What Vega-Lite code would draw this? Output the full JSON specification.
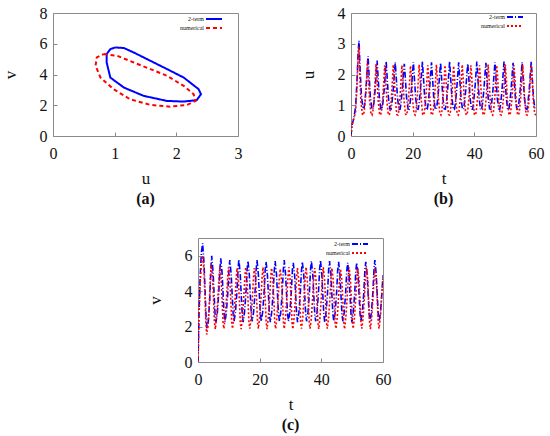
{
  "$schema": "https://vega.github.io/schema/vega-lite/v6.json",
  "padding": {"left": 0, "top": 4, "right": 4, "bottom": 4},
  "background": "white",
  "datasets": {
    "cyc": [
      {"m": "2-term", "i": 1, "u": 1.01, "v": 5.76},
      {"m": "2-term", "i": 2, "u": 1.15, "v": 5.72},
      {"m": "2-term", "i": 3, "u": 1.31, "v": 5.43},
      {"m": "2-term", "i": 4, "u": 1.58, "v": 4.89},
      {"m": "2-term", "i": 5, "u": 1.85, "v": 4.35},
      {"m": "2-term", "i": 6, "u": 2.12, "v": 3.8},
      {"m": "2-term", "i": 7, "u": 2.36, "v": 3.05},
      {"m": "2-term", "i": 8, "u": 2.4, "v": 2.72},
      {"m": "2-term", "i": 9, "u": 2.33, "v": 2.33},
      {"m": "2-term", "i": 10, "u": 2.12, "v": 2.24},
      {"m": "2-term", "i": 11, "u": 1.85, "v": 2.28},
      {"m": "2-term", "i": 12, "u": 1.47, "v": 2.61},
      {"m": "2-term", "i": 13, "u": 1.15, "v": 3.15},
      {"m": "2-term", "i": 14, "u": 0.93, "v": 3.8},
      {"m": "2-term", "i": 15, "u": 0.87, "v": 4.78},
      {"m": "2-term", "i": 16, "u": 0.87, "v": 5.33},
      {"m": "2-term", "i": 17, "u": 0.93, "v": 5.65},
      {"m": "2-term", "i": 18, "u": 1.01, "v": 5.76},
      {"m": "numerical", "i": 1, "u": 0.82, "v": 5.33},
      {"m": "numerical", "i": 2, "u": 1.04, "v": 5.22},
      {"m": "numerical", "i": 3, "u": 1.31, "v": 4.78},
      {"m": "numerical", "i": 4, "u": 1.58, "v": 4.35},
      {"m": "numerical", "i": 5, "u": 1.85, "v": 3.91},
      {"m": "numerical", "i": 6, "u": 2.12, "v": 3.26},
      {"m": "numerical", "i": 7, "u": 2.28, "v": 2.72},
      {"m": "numerical", "i": 8, "u": 2.31, "v": 2.28},
      {"m": "numerical", "i": 9, "u": 2.17, "v": 2.02},
      {"m": "numerical", "i": 10, "u": 1.9, "v": 1.91},
      {"m": "numerical", "i": 11, "u": 1.58, "v": 2.02},
      {"m": "numerical", "i": 12, "u": 1.25, "v": 2.39},
      {"m": "numerical", "i": 13, "u": 0.98, "v": 3.05},
      {"m": "numerical", "i": 14, "u": 0.77, "v": 3.8},
      {"m": "numerical", "i": 15, "u": 0.69, "v": 4.57},
      {"m": "numerical", "i": 16, "u": 0.71, "v": 5.11},
      {"m": "numerical", "i": 17, "u": 0.82, "v": 5.33}
    ],
    "ts": [
      {"m": "2-term", "t": 0, "u": 0, "v": 0},
      {"m": "2-term", "t": 0.3, "u": 0.35, "v": 2.6},
      {"m": "2-term", "t": 0.7, "u": 0.5, "v": 4.8},
      {"m": "2-term", "t": 1.1, "u": 0.7, "v": 6.2},
      {"m": "2-term", "t": 1.5, "u": 0.95, "v": 6.7},
      {"m": "2-term", "t": 1.95, "u": 1.8, "v": 5.6},
      {"m": "2-term", "t": 2.35, "u": 2.8, "v": 3.8},
      {"m": "2-term", "t": 2.6, "u": 3.1, "v": 2.6},
      {"m": "2-term", "t": 2.9, "u": 2.3, "v": 1.9},
      {"m": "2-term", "t": 3.35, "u": 1.35, "v": 2.3},
      {"m": "2-term", "t": 3.8, "u": 0.95, "v": 3.5},
      {"m": "2-term", "t": 4.15, "u": 0.88, "v": 5.2},
      {"m": "2-term", "t": 4.44, "u": 1.05, "v": 6.0},
      {"m": "2-term", "t": 4.88, "u": 1.55, "v": 5.1},
      {"m": "2-term", "t": 5.26, "u": 2.15, "v": 3.7},
      {"m": "2-term", "t": 5.53, "u": 2.6, "v": 2.7},
      {"m": "2-term", "t": 5.82, "u": 2.05, "v": 2.25},
      {"m": "2-term", "t": 6.26, "u": 1.3, "v": 2.75},
      {"m": "2-term", "t": 6.73, "u": 0.9, "v": 3.9},
      {"m": "2-term", "t": 7.09, "u": 0.87, "v": 5.2},
      {"m": "2-term", "t": 7.38, "u": 1.05, "v": 5.85},
      {"m": "2-term", "t": 7.82, "u": 1.5, "v": 5.0},
      {"m": "2-term", "t": 8.2, "u": 2.1, "v": 3.6},
      {"m": "2-term", "t": 8.47, "u": 2.45, "v": 2.7},
      {"m": "2-term", "t": 8.76, "u": 1.95, "v": 2.28},
      {"m": "2-term", "t": 9.2, "u": 1.25, "v": 2.8},
      {"m": "2-term", "t": 9.67, "u": 0.88, "v": 3.9},
      {"m": "2-term", "t": 10.03, "u": 0.87, "v": 5.2},
      {"m": "2-term", "t": 10.32, "u": 1.05, "v": 5.75},
      {"m": "2-term", "t": 10.76, "u": 1.5, "v": 4.95},
      {"m": "2-term", "t": 11.14, "u": 2.05, "v": 3.6},
      {"m": "2-term", "t": 11.41, "u": 2.42, "v": 2.7},
      {"m": "2-term", "t": 11.7, "u": 1.95, "v": 2.3},
      {"m": "2-term", "t": 12.14, "u": 1.25, "v": 2.8},
      {"m": "2-term", "t": 12.61, "u": 0.88, "v": 3.9},
      {"m": "2-term", "t": 12.97, "u": 0.87, "v": 5.2},
      {"m": "2-term", "t": 13.26, "u": 1.05, "v": 5.8},
      {"m": "2-term", "t": 13.7, "u": 1.5, "v": 4.95},
      {"m": "2-term", "t": 14.08, "u": 2.05, "v": 3.6},
      {"m": "2-term", "t": 14.35, "u": 2.4, "v": 2.7},
      {"m": "2-term", "t": 14.64, "u": 1.95, "v": 2.25},
      {"m": "2-term", "t": 15.08, "u": 1.25, "v": 2.8},
      {"m": "2-term", "t": 15.55, "u": 0.86, "v": 3.9},
      {"m": "2-term", "t": 15.91, "u": 0.87, "v": 5.2},
      {"m": "2-term", "t": 16.2, "u": 1.05, "v": 5.7},
      {"m": "2-term", "t": 16.64, "u": 1.5, "v": 4.95},
      {"m": "2-term", "t": 17.02, "u": 2.05, "v": 3.6},
      {"m": "2-term", "t": 17.29, "u": 2.35, "v": 2.7},
      {"m": "2-term", "t": 17.58, "u": 1.95, "v": 2.3},
      {"m": "2-term", "t": 18.02, "u": 1.25, "v": 2.8},
      {"m": "2-term", "t": 18.49, "u": 0.88, "v": 3.9},
      {"m": "2-term", "t": 18.85, "u": 0.87, "v": 5.2},
      {"m": "2-term", "t": 19.14, "u": 1.05, "v": 5.75},
      {"m": "2-term", "t": 19.58, "u": 1.5, "v": 4.95},
      {"m": "2-term", "t": 19.96, "u": 2.05, "v": 3.6},
      {"m": "2-term", "t": 20.23, "u": 2.4, "v": 2.7},
      {"m": "2-term", "t": 20.52, "u": 1.95, "v": 2.3},
      {"m": "2-term", "t": 20.96, "u": 1.25, "v": 2.8},
      {"m": "2-term", "t": 21.43, "u": 0.88, "v": 3.9},
      {"m": "2-term", "t": 21.79, "u": 0.87, "v": 5.2},
      {"m": "2-term", "t": 22.08, "u": 1.05, "v": 5.65},
      {"m": "2-term", "t": 22.52, "u": 1.5, "v": 4.9},
      {"m": "2-term", "t": 22.9, "u": 2.05, "v": 3.6},
      {"m": "2-term", "t": 23.17, "u": 2.42, "v": 2.7},
      {"m": "2-term", "t": 23.46, "u": 1.95, "v": 2.25},
      {"m": "2-term", "t": 23.9, "u": 1.25, "v": 2.8},
      {"m": "2-term", "t": 24.37, "u": 0.86, "v": 3.9},
      {"m": "2-term", "t": 24.73, "u": 0.87, "v": 5.15},
      {"m": "2-term", "t": 25.02, "u": 1.05, "v": 5.7},
      {"m": "2-term", "t": 25.46, "u": 1.5, "v": 4.95},
      {"m": "2-term", "t": 25.84, "u": 2.05, "v": 3.6},
      {"m": "2-term", "t": 26.11, "u": 2.4, "v": 2.7},
      {"m": "2-term", "t": 26.4, "u": 1.95, "v": 2.3},
      {"m": "2-term", "t": 26.84, "u": 1.25, "v": 2.8},
      {"m": "2-term", "t": 27.31, "u": 0.88, "v": 3.9},
      {"m": "2-term", "t": 27.67, "u": 0.87, "v": 5.2},
      {"m": "2-term", "t": 27.96, "u": 1.05, "v": 5.75},
      {"m": "2-term", "t": 28.4, "u": 1.5, "v": 4.95},
      {"m": "2-term", "t": 28.78, "u": 2.05, "v": 3.6},
      {"m": "2-term", "t": 29.05, "u": 2.38, "v": 2.7},
      {"m": "2-term", "t": 29.34, "u": 1.95, "v": 2.3},
      {"m": "2-term", "t": 29.78, "u": 1.25, "v": 2.8},
      {"m": "2-term", "t": 30.25, "u": 0.88, "v": 3.9},
      {"m": "2-term", "t": 30.61, "u": 0.87, "v": 5.2},
      {"m": "2-term", "t": 30.9, "u": 1.05, "v": 5.6},
      {"m": "2-term", "t": 31.34, "u": 1.5, "v": 4.9},
      {"m": "2-term", "t": 31.72, "u": 2.05, "v": 3.6},
      {"m": "2-term", "t": 31.99, "u": 2.42, "v": 2.7},
      {"m": "2-term", "t": 32.28, "u": 1.95, "v": 2.25},
      {"m": "2-term", "t": 32.72, "u": 1.25, "v": 2.8},
      {"m": "2-term", "t": 33.19, "u": 0.86, "v": 3.9},
      {"m": "2-term", "t": 33.55, "u": 0.87, "v": 5.15},
      {"m": "2-term", "t": 33.84, "u": 1.05, "v": 5.65},
      {"m": "2-term", "t": 34.28, "u": 1.5, "v": 4.95},
      {"m": "2-term", "t": 34.66, "u": 2.05, "v": 3.6},
      {"m": "2-term", "t": 34.93, "u": 2.4, "v": 2.7},
      {"m": "2-term", "t": 35.22, "u": 1.95, "v": 2.3},
      {"m": "2-term", "t": 35.66, "u": 1.25, "v": 2.8},
      {"m": "2-term", "t": 36.13, "u": 0.88, "v": 3.9},
      {"m": "2-term", "t": 36.49, "u": 0.87, "v": 5.2},
      {"m": "2-term", "t": 36.78, "u": 1.05, "v": 5.7},
      {"m": "2-term", "t": 37.22, "u": 1.5, "v": 4.95},
      {"m": "2-term", "t": 37.6, "u": 2.05, "v": 3.6},
      {"m": "2-term", "t": 37.87, "u": 2.35, "v": 2.7},
      {"m": "2-term", "t": 38.16, "u": 1.95, "v": 2.3},
      {"m": "2-term", "t": 38.6, "u": 1.25, "v": 2.8},
      {"m": "2-term", "t": 39.07, "u": 0.88, "v": 3.9},
      {"m": "2-term", "t": 39.43, "u": 0.87, "v": 5.2},
      {"m": "2-term", "t": 39.72, "u": 1.05, "v": 5.75},
      {"m": "2-term", "t": 40.16, "u": 1.5, "v": 4.95},
      {"m": "2-term", "t": 40.54, "u": 2.05, "v": 3.6},
      {"m": "2-term", "t": 40.81, "u": 2.42, "v": 2.7},
      {"m": "2-term", "t": 41.1, "u": 1.95, "v": 2.25},
      {"m": "2-term", "t": 41.54, "u": 1.25, "v": 2.8},
      {"m": "2-term", "t": 42.01, "u": 0.86, "v": 3.9},
      {"m": "2-term", "t": 42.37, "u": 0.87, "v": 5.2},
      {"m": "2-term", "t": 42.66, "u": 1.05, "v": 5.7},
      {"m": "2-term", "t": 43.1, "u": 1.5, "v": 4.95},
      {"m": "2-term", "t": 43.48, "u": 2.05, "v": 3.6},
      {"m": "2-term", "t": 43.75, "u": 2.38, "v": 2.7},
      {"m": "2-term", "t": 44.04, "u": 1.95, "v": 2.3},
      {"m": "2-term", "t": 44.48, "u": 1.25, "v": 2.8},
      {"m": "2-term", "t": 44.95, "u": 0.88, "v": 3.9},
      {"m": "2-term", "t": 45.31, "u": 0.87, "v": 5.2},
      {"m": "2-term", "t": 45.6, "u": 1.05, "v": 5.65},
      {"m": "2-term", "t": 46.04, "u": 1.5, "v": 4.9},
      {"m": "2-term", "t": 46.42, "u": 2.05, "v": 3.6},
      {"m": "2-term", "t": 46.69, "u": 2.4, "v": 2.7},
      {"m": "2-term", "t": 46.98, "u": 1.95, "v": 2.3},
      {"m": "2-term", "t": 47.42, "u": 1.25, "v": 2.8},
      {"m": "2-term", "t": 47.89, "u": 0.88, "v": 3.9},
      {"m": "2-term", "t": 48.25, "u": 0.87, "v": 5.15},
      {"m": "2-term", "t": 48.54, "u": 1.05, "v": 5.6},
      {"m": "2-term", "t": 48.98, "u": 1.5, "v": 4.9},
      {"m": "2-term", "t": 49.36, "u": 2.05, "v": 3.6},
      {"m": "2-term", "t": 49.63, "u": 2.42, "v": 2.7},
      {"m": "2-term", "t": 49.92, "u": 1.95, "v": 2.25},
      {"m": "2-term", "t": 50.36, "u": 1.25, "v": 2.8},
      {"m": "2-term", "t": 50.83, "u": 0.86, "v": 3.9},
      {"m": "2-term", "t": 51.19, "u": 0.87, "v": 5.15},
      {"m": "2-term", "t": 51.48, "u": 1.05, "v": 5.6},
      {"m": "2-term", "t": 51.92, "u": 1.5, "v": 4.9},
      {"m": "2-term", "t": 52.3, "u": 2.05, "v": 3.6},
      {"m": "2-term", "t": 52.57, "u": 2.38, "v": 2.7},
      {"m": "2-term", "t": 52.86, "u": 1.95, "v": 2.3},
      {"m": "2-term", "t": 53.3, "u": 1.25, "v": 2.8},
      {"m": "2-term", "t": 53.77, "u": 0.88, "v": 3.9},
      {"m": "2-term", "t": 54.13, "u": 0.87, "v": 5.2},
      {"m": "2-term", "t": 54.42, "u": 1.05, "v": 5.65},
      {"m": "2-term", "t": 54.86, "u": 1.5, "v": 4.95},
      {"m": "2-term", "t": 55.24, "u": 2.05, "v": 3.6},
      {"m": "2-term", "t": 55.51, "u": 2.4, "v": 2.7},
      {"m": "2-term", "t": 55.8, "u": 1.95, "v": 2.3},
      {"m": "2-term", "t": 56.24, "u": 1.25, "v": 2.8},
      {"m": "2-term", "t": 56.71, "u": 0.88, "v": 3.9},
      {"m": "2-term", "t": 57.07, "u": 0.87, "v": 5.2},
      {"m": "2-term", "t": 57.36, "u": 1.05, "v": 5.75},
      {"m": "2-term", "t": 57.8, "u": 1.5, "v": 4.95},
      {"m": "2-term", "t": 58.18, "u": 2.05, "v": 3.6},
      {"m": "2-term", "t": 58.45, "u": 2.42, "v": 2.7},
      {"m": "2-term", "t": 58.74, "u": 1.95, "v": 2.3},
      {"m": "2-term", "t": 59.18, "u": 1.25, "v": 2.8},
      {"m": "2-term", "t": 59.65, "u": 0.88, "v": 3.9},
      {"m": "2-term", "t": 60, "u": 0.87, "v": 4.9},
      {"m": "numerical", "t": 0, "u": 0, "v": 0},
      {"m": "numerical", "t": 0.3, "u": 0.33, "v": 2.4},
      {"m": "numerical", "t": 0.7, "u": 0.48, "v": 4.4},
      {"m": "numerical", "t": 1.1, "u": 0.62, "v": 5.6},
      {"m": "numerical", "t": 1.5, "u": 0.8, "v": 6.0},
      {"m": "numerical", "t": 1.92, "u": 1.6, "v": 5.2},
      {"m": "numerical", "t": 2.28, "u": 2.5, "v": 3.6},
      {"m": "numerical", "t": 2.53, "u": 2.9, "v": 2.3},
      {"m": "numerical", "t": 2.81, "u": 2.1, "v": 1.55},
      {"m": "numerical", "t": 3.23, "u": 1.1, "v": 2.0},
      {"m": "numerical", "t": 3.68, "u": 0.72, "v": 3.3},
      {"m": "numerical", "t": 4.02, "u": 0.68, "v": 4.7},
      {"m": "numerical", "t": 4.3, "u": 0.8, "v": 5.55},
      {"m": "numerical", "t": 4.72, "u": 1.25, "v": 4.75},
      {"m": "numerical", "t": 5.08, "u": 1.85, "v": 3.4},
      {"m": "numerical", "t": 5.33, "u": 2.45, "v": 2.25},
      {"m": "numerical", "t": 5.61, "u": 1.95, "v": 1.85},
      {"m": "numerical", "t": 6.03, "u": 1.15, "v": 2.5},
      {"m": "numerical", "t": 6.48, "u": 0.72, "v": 3.7},
      {"m": "numerical", "t": 6.82, "u": 0.68, "v": 4.8},
      {"m": "numerical", "t": 7.09, "u": 0.8, "v": 5.4},
      {"m": "numerical", "t": 7.51, "u": 1.25, "v": 4.65},
      {"m": "numerical", "t": 7.87, "u": 1.85, "v": 3.35},
      {"m": "numerical", "t": 8.12, "u": 2.35, "v": 2.25},
      {"m": "numerical", "t": 8.4, "u": 1.95, "v": 1.88},
      {"m": "numerical", "t": 8.82, "u": 1.15, "v": 2.5},
      {"m": "numerical", "t": 9.27, "u": 0.72, "v": 3.7},
      {"m": "numerical", "t": 9.61, "u": 0.68, "v": 4.8},
      {"m": "numerical", "t": 9.89, "u": 0.8, "v": 5.35},
      {"m": "numerical", "t": 10.31, "u": 1.25, "v": 4.65},
      {"m": "numerical", "t": 10.67, "u": 1.85, "v": 3.35},
      {"m": "numerical", "t": 10.92, "u": 2.3, "v": 2.25},
      {"m": "numerical", "t": 11.2, "u": 1.95, "v": 1.88},
      {"m": "numerical", "t": 11.62, "u": 1.15, "v": 2.5},
      {"m": "numerical", "t": 12.07, "u": 0.72, "v": 3.7},
      {"m": "numerical", "t": 12.41, "u": 0.68, "v": 4.8},
      {"m": "numerical", "t": 12.68, "u": 0.8, "v": 5.3},
      {"m": "numerical", "t": 13.1, "u": 1.25, "v": 4.65},
      {"m": "numerical", "t": 13.46, "u": 1.85, "v": 3.35},
      {"m": "numerical", "t": 13.71, "u": 2.32, "v": 2.25},
      {"m": "numerical", "t": 13.99, "u": 1.95, "v": 1.86},
      {"m": "numerical", "t": 14.41, "u": 1.15, "v": 2.5},
      {"m": "numerical", "t": 14.86, "u": 0.7, "v": 3.7},
      {"m": "numerical", "t": 15.2, "u": 0.68, "v": 4.8},
      {"m": "numerical", "t": 15.48, "u": 0.8, "v": 5.35},
      {"m": "numerical", "t": 15.9, "u": 1.25, "v": 4.65},
      {"m": "numerical", "t": 16.26, "u": 1.85, "v": 3.35},
      {"m": "numerical", "t": 16.51, "u": 2.3, "v": 2.25},
      {"m": "numerical", "t": 16.79, "u": 1.95, "v": 1.88},
      {"m": "numerical", "t": 17.21, "u": 1.15, "v": 2.5},
      {"m": "numerical", "t": 17.66, "u": 0.72, "v": 3.7},
      {"m": "numerical", "t": 18.0, "u": 0.68, "v": 4.8},
      {"m": "numerical", "t": 18.27, "u": 0.8, "v": 5.3},
      {"m": "numerical", "t": 18.69, "u": 1.25, "v": 4.65},
      {"m": "numerical", "t": 19.05, "u": 1.85, "v": 3.35},
      {"m": "numerical", "t": 19.3, "u": 2.28, "v": 2.25},
      {"m": "numerical", "t": 19.58, "u": 1.95, "v": 1.88},
      {"m": "numerical", "t": 20.0, "u": 1.15, "v": 2.5},
      {"m": "numerical", "t": 20.45, "u": 0.72, "v": 3.7},
      {"m": "numerical", "t": 20.79, "u": 0.68, "v": 4.8},
      {"m": "numerical", "t": 21.07, "u": 0.8, "v": 5.35},
      {"m": "numerical", "t": 21.49, "u": 1.25, "v": 4.65},
      {"m": "numerical", "t": 21.85, "u": 1.85, "v": 3.35},
      {"m": "numerical", "t": 22.1, "u": 2.32, "v": 2.25},
      {"m": "numerical", "t": 22.38, "u": 1.95, "v": 1.86},
      {"m": "numerical", "t": 22.8, "u": 1.15, "v": 2.5},
      {"m": "numerical", "t": 23.25, "u": 0.7, "v": 3.7},
      {"m": "numerical", "t": 23.59, "u": 0.68, "v": 4.8},
      {"m": "numerical", "t": 23.86, "u": 0.8, "v": 5.3},
      {"m": "numerical", "t": 24.28, "u": 1.25, "v": 4.65},
      {"m": "numerical", "t": 24.64, "u": 1.85, "v": 3.35},
      {"m": "numerical", "t": 24.89, "u": 2.3, "v": 2.25},
      {"m": "numerical", "t": 25.17, "u": 1.95, "v": 1.88},
      {"m": "numerical", "t": 25.59, "u": 1.15, "v": 2.5},
      {"m": "numerical", "t": 26.04, "u": 0.72, "v": 3.7},
      {"m": "numerical", "t": 26.38, "u": 0.68, "v": 4.8},
      {"m": "numerical", "t": 26.66, "u": 0.8, "v": 5.25},
      {"m": "numerical", "t": 27.08, "u": 1.25, "v": 4.65},
      {"m": "numerical", "t": 27.44, "u": 1.85, "v": 3.35},
      {"m": "numerical", "t": 27.69, "u": 2.32, "v": 2.25},
      {"m": "numerical", "t": 27.97, "u": 1.95, "v": 1.88},
      {"m": "numerical", "t": 28.39, "u": 1.15, "v": 2.5},
      {"m": "numerical", "t": 28.84, "u": 0.72, "v": 3.7},
      {"m": "numerical", "t": 29.18, "u": 0.68, "v": 4.8},
      {"m": "numerical", "t": 29.45, "u": 0.8, "v": 5.35},
      {"m": "numerical", "t": 29.87, "u": 1.25, "v": 4.65},
      {"m": "numerical", "t": 30.23, "u": 1.85, "v": 3.35},
      {"m": "numerical", "t": 30.48, "u": 2.3, "v": 2.25},
      {"m": "numerical", "t": 30.76, "u": 1.95, "v": 1.86},
      {"m": "numerical", "t": 31.18, "u": 1.15, "v": 2.5},
      {"m": "numerical", "t": 31.63, "u": 0.7, "v": 3.7},
      {"m": "numerical", "t": 31.97, "u": 0.68, "v": 4.8},
      {"m": "numerical", "t": 32.25, "u": 0.8, "v": 5.3},
      {"m": "numerical", "t": 32.67, "u": 1.25, "v": 4.65},
      {"m": "numerical", "t": 33.03, "u": 1.85, "v": 3.35},
      {"m": "numerical", "t": 33.28, "u": 2.28, "v": 2.25},
      {"m": "numerical", "t": 33.56, "u": 1.95, "v": 1.88},
      {"m": "numerical", "t": 33.98, "u": 1.15, "v": 2.5},
      {"m": "numerical", "t": 34.43, "u": 0.72, "v": 3.7},
      {"m": "numerical", "t": 34.77, "u": 0.68, "v": 4.8},
      {"m": "numerical", "t": 35.04, "u": 0.8, "v": 5.35},
      {"m": "numerical", "t": 35.46, "u": 1.25, "v": 4.65},
      {"m": "numerical", "t": 35.82, "u": 1.85, "v": 3.35},
      {"m": "numerical", "t": 36.07, "u": 2.32, "v": 2.25},
      {"m": "numerical", "t": 36.35, "u": 1.95, "v": 1.88},
      {"m": "numerical", "t": 36.77, "u": 1.15, "v": 2.5},
      {"m": "numerical", "t": 37.22, "u": 0.72, "v": 3.7},
      {"m": "numerical", "t": 37.56, "u": 0.68, "v": 4.8},
      {"m": "numerical", "t": 37.84, "u": 0.8, "v": 5.3},
      {"m": "numerical", "t": 38.26, "u": 1.25, "v": 4.65},
      {"m": "numerical", "t": 38.62, "u": 1.85, "v": 3.35},
      {"m": "numerical", "t": 38.87, "u": 2.3, "v": 2.25},
      {"m": "numerical", "t": 39.15, "u": 1.95, "v": 1.86},
      {"m": "numerical", "t": 39.57, "u": 1.15, "v": 2.5},
      {"m": "numerical", "t": 40.02, "u": 0.7, "v": 3.7},
      {"m": "numerical", "t": 40.36, "u": 0.68, "v": 4.8},
      {"m": "numerical", "t": 40.63, "u": 0.8, "v": 5.35},
      {"m": "numerical", "t": 41.05, "u": 1.25, "v": 4.65},
      {"m": "numerical", "t": 41.41, "u": 1.85, "v": 3.35},
      {"m": "numerical", "t": 41.66, "u": 2.3, "v": 2.25},
      {"m": "numerical", "t": 41.94, "u": 1.95, "v": 1.88},
      {"m": "numerical", "t": 42.36, "u": 1.15, "v": 2.5},
      {"m": "numerical", "t": 42.81, "u": 0.72, "v": 3.7},
      {"m": "numerical", "t": 43.15, "u": 0.68, "v": 4.8},
      {"m": "numerical", "t": 43.43, "u": 0.8, "v": 5.3},
      {"m": "numerical", "t": 43.85, "u": 1.25, "v": 4.65},
      {"m": "numerical", "t": 44.21, "u": 1.85, "v": 3.35},
      {"m": "numerical", "t": 44.46, "u": 2.32, "v": 2.25},
      {"m": "numerical", "t": 44.74, "u": 1.95, "v": 1.88},
      {"m": "numerical", "t": 45.16, "u": 1.15, "v": 2.5},
      {"m": "numerical", "t": 45.61, "u": 0.72, "v": 3.7},
      {"m": "numerical", "t": 45.95, "u": 0.68, "v": 4.8},
      {"m": "numerical", "t": 46.22, "u": 0.8, "v": 5.25},
      {"m": "numerical", "t": 46.64, "u": 1.25, "v": 4.65},
      {"m": "numerical", "t": 47.0, "u": 1.85, "v": 3.35},
      {"m": "numerical", "t": 47.25, "u": 2.3, "v": 2.25},
      {"m": "numerical", "t": 47.53, "u": 1.95, "v": 1.86},
      {"m": "numerical", "t": 47.95, "u": 1.15, "v": 2.5},
      {"m": "numerical", "t": 48.4, "u": 0.7, "v": 3.7},
      {"m": "numerical", "t": 48.74, "u": 0.68, "v": 4.8},
      {"m": "numerical", "t": 49.02, "u": 0.8, "v": 5.35},
      {"m": "numerical", "t": 49.44, "u": 1.25, "v": 4.65},
      {"m": "numerical", "t": 49.8, "u": 1.85, "v": 3.35},
      {"m": "numerical", "t": 50.05, "u": 2.32, "v": 2.25},
      {"m": "numerical", "t": 50.33, "u": 1.95, "v": 1.88},
      {"m": "numerical", "t": 50.75, "u": 1.15, "v": 2.5},
      {"m": "numerical", "t": 51.2, "u": 0.72, "v": 3.7},
      {"m": "numerical", "t": 51.54, "u": 0.68, "v": 4.8},
      {"m": "numerical", "t": 51.81, "u": 0.8, "v": 5.3},
      {"m": "numerical", "t": 52.23, "u": 1.25, "v": 4.65},
      {"m": "numerical", "t": 52.59, "u": 1.85, "v": 3.35},
      {"m": "numerical", "t": 52.84, "u": 2.3, "v": 2.25},
      {"m": "numerical", "t": 53.12, "u": 1.95, "v": 1.88},
      {"m": "numerical", "t": 53.54, "u": 1.15, "v": 2.5},
      {"m": "numerical", "t": 53.99, "u": 0.72, "v": 3.7},
      {"m": "numerical", "t": 54.33, "u": 0.68, "v": 4.8},
      {"m": "numerical", "t": 54.61, "u": 0.8, "v": 5.35},
      {"m": "numerical", "t": 55.03, "u": 1.25, "v": 4.65},
      {"m": "numerical", "t": 55.39, "u": 1.85, "v": 3.35},
      {"m": "numerical", "t": 55.64, "u": 2.32, "v": 2.25},
      {"m": "numerical", "t": 55.92, "u": 1.95, "v": 1.86},
      {"m": "numerical", "t": 56.34, "u": 1.15, "v": 2.5},
      {"m": "numerical", "t": 56.79, "u": 0.7, "v": 3.7},
      {"m": "numerical", "t": 57.13, "u": 0.68, "v": 4.8},
      {"m": "numerical", "t": 57.4, "u": 0.8, "v": 5.3},
      {"m": "numerical", "t": 57.82, "u": 1.25, "v": 4.65},
      {"m": "numerical", "t": 58.18, "u": 1.85, "v": 3.35},
      {"m": "numerical", "t": 58.43, "u": 2.3, "v": 2.25},
      {"m": "numerical", "t": 58.71, "u": 1.95, "v": 1.88},
      {"m": "numerical", "t": 59.13, "u": 1.15, "v": 2.5},
      {"m": "numerical", "t": 59.58, "u": 0.72, "v": 3.7},
      {"m": "numerical", "t": 60, "u": 0.68, "v": 4.8}
    ]
  },
  "config": {
    "font": "Liberation Serif",
    "view": {"stroke": "#8a8a8a", "strokeWidth": 1},
    "axis": {
      "grid": false,
      "domain": false,
      "labelFlush": false,
      "labelFont": "Liberation Serif",
      "labelFontSize": 16,
      "labelColor": "#111",
      "titleFont": "Liberation Serif",
      "titleFontSize": 17,
      "titleFontWeight": "normal",
      "titleColor": "#111",
      "tickColor": "#8a8a8a",
      "tickSize": -4
    },
    "axisX": {"labelPadding": 13, "titlePadding": 9},
    "axisY": {"labelPadding": 10, "titlePadding": 20},
    "legend": {
      "orient": "none",
      "padding": 0,
      "title": null,
      "labelFont": "Liberation Serif",
      "labelFontSize": 6,
      "labelColor": "#111",
      "symbolType": "M-2,0H2",
      "symbolSize": 64,
      "symbolStrokeWidth": 2,
      "rowPadding": 0,
      "labelAlign": "right",
      "labelOffset": -15
    },
    "title": {"font": "Liberation Serif", "fontSize": 16, "fontWeight": "bold", "color": "#111", "orient": "bottom", "offset": 5}
  },
  "resolve": {"scale": {"color": "independent", "strokeDash": "independent"}},
  "vconcat": [
    {
      "hconcat": [
        {
          "title": "(a)",
          "width": 185,
          "height": 123,
          "data": {"name": "cyc"},
          "mark": {"type": "line", "strokeWidth": 2, "clip": true},
          "encoding": {
            "x": {"field": "u", "type": "quantitative", "scale": {"domain": [0, 3]}, "axis": {"values": [0, 1, 2, 3]}, "title": "u"},
            "y": {"field": "v", "type": "quantitative", "scale": {"domain": [0, 8]}, "axis": {"values": [0, 2, 4, 6, 8]}, "title": "v"},
            "order": {"field": "i"},
            "color": {"field": "m", "type": "nominal", "scale": {"domain": ["2-term", "numerical"], "range": ["#0000ff", "#ff0000"]}, "legend": {"legendX": 156, "legendY": 1}},
            "strokeDash": {"field": "m", "type": "nominal", "scale": {"domain": ["2-term", "numerical"], "range": [[1, 0], [4, 3]]}, "legend": {"legendX": 156, "legendY": 1}}
          }
        },
        {
          "title": "(b)",
          "width": 185,
          "height": 123,
          "data": {"name": "ts"},
          "mark": {"type": "line", "strokeWidth": 1.6, "clip": true},
          "encoding": {
            "x": {"field": "t", "type": "quantitative", "scale": {"domain": [0, 60]}, "axis": {"values": [0, 20, 40, 60]}, "title": "t"},
            "y": {"field": "u", "type": "quantitative", "scale": {"domain": [0, 4]}, "axis": {"values": [0, 1, 2, 3, 4]}, "title": "u"},
            "color": {"field": "m", "type": "nominal", "scale": {"domain": ["2-term", "numerical"], "range": ["#0000ff", "#ff0000"]}, "legend": {"legendX": 159, "legendY": -1}},
            "strokeDash": {"field": "m", "type": "nominal", "scale": {"domain": ["2-term", "numerical"], "range": [[6, 2, 1, 2], [2, 2]]}, "legend": {"legendX": 159, "legendY": -1}}
          }
        }
      ],
      "spacing": 55,
      "resolve": {"scale": {"color": "independent", "strokeDash": "independent"}}
    },
    {
      "hconcat": [
        {
          "width": 92,
          "height": 124,
          "data": {"values": []},
          "mark": "point",
          "view": {"stroke": null}
        },
        {
          "title": "(c)",
          "width": 185,
          "height": 124,
          "data": {"name": "ts"},
          "mark": {"type": "line", "strokeWidth": 1.6, "clip": true},
          "encoding": {
            "x": {"field": "t", "type": "quantitative", "scale": {"domain": [0, 60]}, "axis": {"values": [0, 20, 40, 60]}, "title": "t"},
            "y": {"field": "v", "type": "quantitative", "scale": {"domain": [0, 7]}, "axis": {"values": [0, 2, 4, 6]}, "title": "v"},
            "color": {"field": "m", "type": "nominal", "scale": {"domain": ["2-term", "numerical"], "range": ["#0000ff", "#ff0000"]}, "legend": {"legendX": 157, "legendY": 1}},
            "strokeDash": {"field": "m", "type": "nominal", "scale": {"domain": ["2-term", "numerical"], "range": [[6, 2, 1, 2], [2, 2]]}, "legend": {"legendX": 157, "legendY": 1}}
          }
        }
      ],
      "spacing": 0,
      "resolve": {"scale": {"color": "independent", "strokeDash": "independent"}}
    }
  ],
  "spacing": 29
}
